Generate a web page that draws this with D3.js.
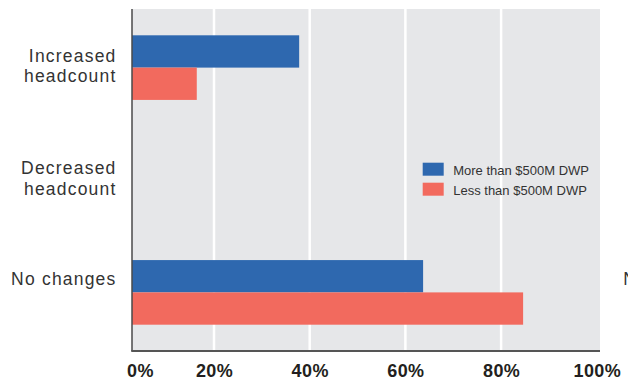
<!DOCTYPE html>
<html>
<head>
<meta charset="utf-8">
<script src="https://cdn.jsdelivr.net/npm/d3@7"></script>
<style>
  html, body { margin: 0; padding: 0; background: #fff; }
  svg { display: block; }
</style>
</head>
<body>
<svg id="chart" width="628" height="381"></svg>
<script>
// Share of firms by change in headcount, split by DWP size
const categories = ["Increased headcount", "Decreased headcount", "No changes"];
const seriesNames = ["More than $500M DWP", "Less than $500M DWP"];
const moreThan500M = [37.8, 0, 63.7];
const lessThan500M = [16.4, 0, 84.6];
const tickValues = [0, 20, 40, 60, 80, 100];
const tickLabels = ["0%", "20%", "40%", "60%", "80%", "100%"];
const colors = ["#2E68AF", "#F26A5E"];

const svg = d3.select("#chart");
const plot = { left: 132, right: 600, top: 9, bottom: 351 };

const x = d3.scaleLinear().domain([0, 100]).range([118.3, 596.8]);

const y = d3.scaleBand()
  .domain(categories)
  .range([plot.top, plot.bottom])
  .paddingInner(0.425)
  .paddingOuter(0.234);

const ySub = d3.scaleBand()
  .domain(seriesNames)
  .range([0, y.bandwidth()]);

const rows = categories.map((c, i) => ({
  category: c,
  values: [moreThan500M[i], lessThan500M[i]]
}));

// plot background
svg.append("rect")
  .attr("x", plot.left).attr("y", plot.top)
  .attr("width", plot.right - plot.left)
  .attr("height", plot.bottom - plot.top)
  .attr("fill", "#E6E7E9");

// vertical gridlines
svg.append("g")
  .selectAll("line")
  .data(tickValues.filter(v => v > 0 && v < 100))
  .join("line")
  .attr("x1", d => x(d)).attr("x2", d => x(d))
  .attr("y1", plot.top).attr("y2", plot.bottom)
  .attr("stroke", "#fff")
  .attr("stroke-width", 2.5);

// bars
const groups = svg.append("g")
  .selectAll("g")
  .data(rows)
  .join("g")
  .attr("transform", d => `translate(0,${y(d.category)})`);

groups.selectAll("rect")
  .data(d => d.values.map((v, i) => ({ name: seriesNames[i], value: v, i })))
  .join("rect")
  .attr("x", plot.left)
  .attr("y", d => ySub(d.name))
  .attr("width", d => Math.max(0, x(d.value) - plot.left))
  .attr("height", ySub.bandwidth())
  .attr("fill", d => colors[d.i]);

// axis lines
svg.append("line")
  .attr("x1", plot.left).attr("x2", plot.left)
  .attr("y1", plot.top).attr("y2", plot.bottom)
  .attr("stroke", "#4a4a4a").attr("stroke-width", 1.5);
svg.append("line")
  .attr("x1", plot.left - 0.75).attr("x2", plot.right)
  .attr("y1", plot.bottom).attr("y2", plot.bottom)
  .attr("stroke", "#555").attr("stroke-width", 2);

// bottom tick labels
const xAxis = d3.axisBottom(x)
  .tickValues(tickValues)
  .tickFormat((d, i) => tickLabels[i])
  .tickSize(0);

const axisG = svg.append("g")
  .attr("transform", `translate(0,${plot.bottom})`)
  .call(xAxis);
axisG.select(".domain").remove();
axisG.selectAll("text")
  .attr("dy", null)
  .attr("y", 26)
  .attr("font-family", "'Liberation Sans', Arial, sans-serif")
  .attr("font-size", 18)
  .attr("font-weight", "bold")
  .attr("letter-spacing", 0.4)
  .attr("fill", "#231F20");
// keep the first label from running past the left axis
axisG.selectAll(".tick").each(function() {
  const t = d3.select(this).select("text");
  const w = t.node().getComputedTextLength();
  const cx = +d3.select(this).attr("transform").match(/translate\(([-\d.]+)/)[1];
  const minLeft = plot.left - 5;
  if (cx - w / 2 < minLeft) {
    t.attr("text-anchor", "start").attr("x", minLeft - cx);
  }
});

// category labels
const labelG = svg.append("g")
  .attr("font-family", "'Liberation Sans', Arial, sans-serif")
  .attr("font-size", 17.5)
  .attr("letter-spacing", 1.2)
  .attr("fill", "#333")
  .attr("text-anchor", "end");

rows.forEach(r => {
  const lines = r.category === "No changes" ? [r.category] : r.category.split(" ");
  const cy = y(r.category) + y.bandwidth() / 2;
  const first = lines.length > 1 ? cy - 6 : cy - 7.5;
  const t = labelG.append("text").attr("x", 116.5);
  lines.forEach((ln, i) => {
    t.append("tspan")
      .attr("x", 116.5)
      .attr("y", first + i * 20.5)
      .text(ln);
  });
});

// neighbouring label clipped at the right edge
svg.append("text")
  .attr("x", 623.3)
  .attr("y", y("No changes") + y.bandwidth() / 2 - 7.5)
  .attr("font-family", "'Liberation Sans', Arial, sans-serif")
  .attr("font-size", 17.5)
  .attr("letter-spacing", 1.2)
  .attr("fill", "#333")
  .text("No changes");

// legend
const legend = svg.append("g").attr("transform", "translate(422.7,162.7)");
seriesNames.forEach((name, i) => {
  const row = legend.append("g").attr("transform", `translate(0,${i * 20})`);
  row.append("rect")
    .attr("width", 21).attr("height", 13)
    .attr("fill", colors[i]);
  row.append("text")
    .attr("x", 30.5).attr("y", 12.3)
    .attr("font-family", "'Liberation Sans', Arial, sans-serif")
    .attr("font-size", 13)
    .attr("fill", "#333")
    .text(name);
});
</script>
</body>
</html>
